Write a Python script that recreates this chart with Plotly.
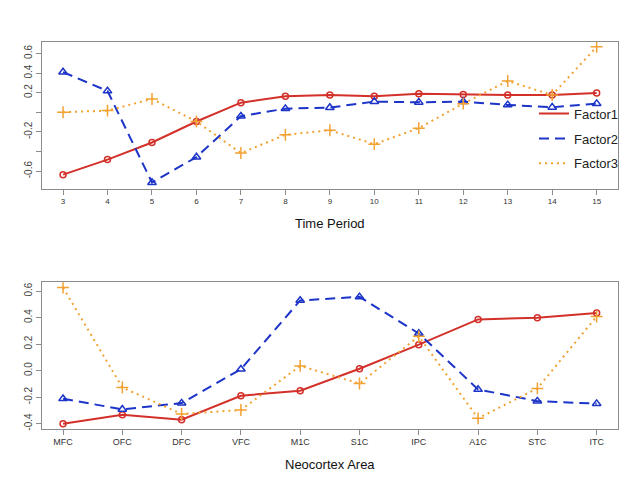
import plotly.graph_objects as go

# ===== 数据：上图 Time Period =====
periods = [3, 4, 5, 6, 7, 8, 9, 10, 11, 12, 13, 14, 15]
time_f1 = [-0.636, -0.483, -0.308, -0.094, 0.098, 0.163, 0.176, 0.163, 0.19, 0.18, 0.176, 0.176, 0.197]
time_f2 = [0.41, 0.217, -0.717, -0.457, -0.04, 0.037, 0.048, 0.109, 0.102, 0.109, 0.075, 0.051, 0.088]
time_f3 = [0.0, 0.017, 0.136, -0.094, -0.416, -0.23, -0.183, -0.325, -0.162, 0.088, 0.319, 0.176, 0.667]

# ===== 数据：下图 Neocortex Area =====
areas = ["MFC", "OFC", "DFC", "VFC", "M1C", "S1C", "IPC", "A1C", "STC", "ITC"]
area_f1 = [-0.401, -0.333, -0.371, -0.19, -0.153, 0.013, 0.195, 0.386, 0.398, 0.434]
area_f2 = [-0.213, -0.293, -0.246, 0.01, 0.529, 0.556, 0.28, -0.143, -0.231, -0.25]
area_f3 = [0.626, -0.128, -0.328, -0.298, 0.035, -0.098, 0.258, -0.361, -0.135, 0.408]

# ===== 刻度 =====
top_ytick_vals = [0.6, 0.4, 0.2, 0.0, -0.2, -0.4, -0.6]
top_ytick_text = ["0.6", "0.4", "0.2", "", "-0.2", "", "-0.6"]
bot_ytick_vals = [0.6, 0.4, 0.2, 0.0, -0.2, -0.4]
bot_ytick_text = ["0.6", "0.4", "0.2", "0.0", "-0.2", "-0.4"]

RED = "#d3302a"
BLUE = "#1c34c8"
ORANGE = "#f2a232"
FONT = "Liberation Sans, Arial"

styles = [
    dict(name="Factor1", color=RED, dash="solid", symbol="circle-open", size=6),
    dict(name="Factor2", color=BLUE, dash="10px,6px", symbol="triangle-up-open", size=7.5),
    dict(name="Factor3", color=ORANGE, dash="2px,4px", symbol="cross-thin-open", size=8.5),
]

# 页面 body 有约 8px 的边距，位置按此修正
OFF = 8

def px_x(p):
    return (p - OFF) / 640

def px_y(p):
    return 1 - (p - OFF) / 483

fig = go.Figure()

# ===== 上图 =====
for st, ys in zip(styles, [time_f1, time_f2, time_f3]):
    fig.add_trace(go.Scatter(
        x=periods, y=ys, mode="lines+markers",
        line=dict(color=st["color"], width=2, dash=st["dash"]),
        marker=dict(symbol=st["symbol"], size=st["size"], color=st["color"],
                    line=dict(color=st["color"], width=1.5)),
        showlegend=False, xaxis="x", yaxis="y"
    ))

# ===== 下图 =====
for st, ys in zip(styles, [area_f1, area_f2, area_f3]):
    fig.add_trace(go.Scatter(
        x=areas, y=ys, mode="lines+markers",
        line=dict(color=st["color"], width=2, dash=st["dash"]),
        marker=dict(symbol=st["symbol"], size=st["size"], color=st["color"],
                    line=dict(color=st["color"], width=1.5)),
        showlegend=False, xaxis="x2", yaxis="y2"
    ))

# ===== 图例（只有线） =====
for i, st in enumerate(styles):
    fig.add_trace(go.Scatter(
        x=[None], y=[None], mode="lines", name=st["name"],
        line=dict(color=st["color"], width=2, dash=st["dash"]),
        legendgroup=str(i), xaxis="x", yaxis="y"
    ))

axis_common = dict(
    showgrid=False, zeroline=False, showline=True, mirror=True,
    linecolor="#8c8c8c", linewidth=1,
    ticks="outside", ticklen=5, tickcolor="#8c8c8c",
    tickfont=dict(family=FONT, size=9, color="#333333"),
)
ytick_font = dict(family=FONT, size=10, color="#444444")

x_dom = [px_x(41.7), px_x(618)]

fig.update_layout(
    width=640, height=483,
    margin=dict(l=0, r=0, t=0, b=0),
    paper_bgcolor="white", plot_bgcolor="white",
    xaxis=dict(axis_common, domain=x_dom, range=[2.52, 15.48],
               tickvals=periods, tickfont=dict(family=FONT, size=8, color="#333333"),
               anchor="y"),
    yaxis=dict(axis_common, domain=[px_y(189.3), px_y(42)], range=[-0.778, 0.718],
               tickvals=top_ytick_vals, ticktext=top_ytick_text, tickangle=-90,
               tickfont=ytick_font, anchor="x"),
    xaxis2=dict(axis_common, domain=x_dom, range=[-0.36, 9.36],
                type="category", anchor="y2"),
    yaxis2=dict(axis_common, domain=[px_y(430.3), px_y(283.3)], range=[-0.438, 0.667],
                tickvals=bot_ytick_vals, ticktext=bot_ytick_text, tickangle=-90,
                tickfont=ytick_font, anchor="x2"),
    legend=dict(
        x=px_x(624), xanchor="right", y=px_y(99), yanchor="top",
        bgcolor="rgba(0,0,0,0)", borderwidth=0,
        font=dict(family=FONT, size=13, color="#222222"),
        tracegroupgap=5,
    ),
    annotations=[
        dict(text="Time Period", x=(x_dom[0] + x_dom[1]) / 2, y=px_y(224),
             xref="paper", yref="paper", xanchor="center", yanchor="middle",
             showarrow=False, font=dict(family=FONT, size=13, color="#111111")),
        dict(text="Neocortex Area", x=(x_dom[0] + x_dom[1]) / 2, y=px_y(466),
             xref="paper", yref="paper", xanchor="center", yanchor="middle",
             showarrow=False, font=dict(family=FONT, size=13, color="#111111")),
    ],
)

fig.write_html("out.html")
